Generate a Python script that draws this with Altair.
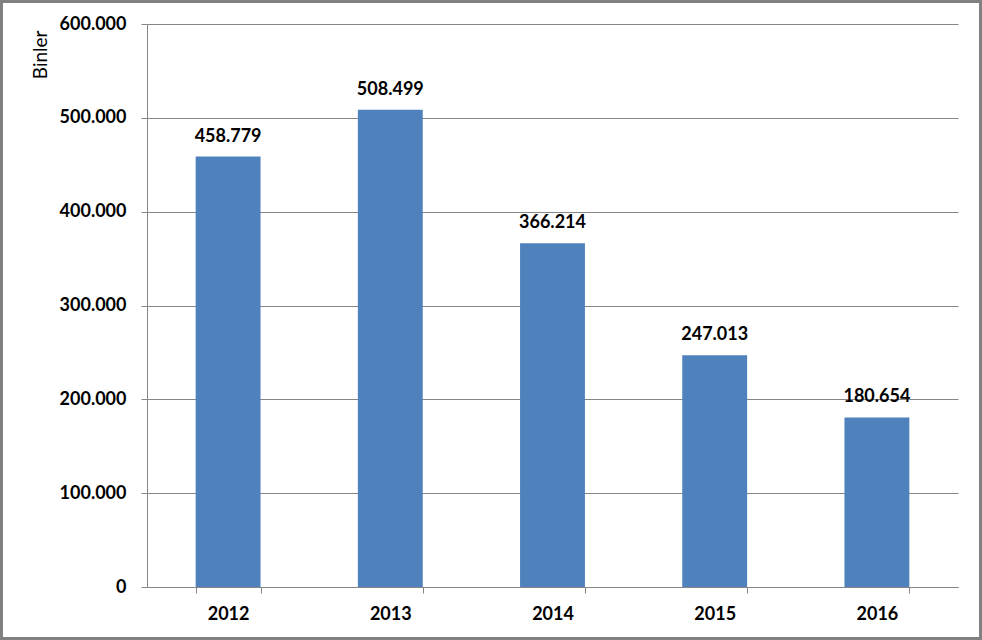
import altair as alt
import pandas as pd

years = ["2012", "2013", "2014", "2015", "2016"]
values = [458779, 508499, 366214, 247013, 180654]

df = pd.DataFrame({"year": years, "value": values})

W, H = 811, 563
PL, PT = 147, 24
FONT = "Lato"
FS = 18

base = alt.Chart(df)

bars = base.mark_bar(color="#4F81BD").encode(
    x=alt.X("year:N", sort=years,
            scale=alt.Scale(paddingInner=0.6, paddingOuter=0.3),
            axis=alt.Axis(title=None, labelAngle=0, tickBand="extent",
                          labelFont=FONT, labelFontWeight="bold", labelFontSize=FS,
                          labelColor="black", labelPadding=12,
                          domainColor="#868686", tickColor="#868686", tickSize=6,
                          grid=False)),
    y=alt.Y("value:Q", scale=alt.Scale(domain=[0, 600000], nice=False),
            axis=alt.Axis(title="Binler", values=[0, 100000, 200000, 300000, 400000, 500000, 600000],
                          format=",d", labelFont=FONT, labelFontWeight="bold", labelFontSize=FS,
                          labelColor="black", labelPadding=15,
                          domainColor="#868686", tickColor="#868686", tickSize=6,
                          gridColor="#868686", gridWidth=1,
                          titleFont=FONT, titleFontWeight="normal", titleFontSize=19,
                          titleColor="black", titleAngle=270, titleAlign="right",
                          titleBaseline="alphabetic", titleX=-101, titleY=6)),
)

labels = base.mark_text(font=FONT, fontWeight="bold", fontSize=FS, color="black",
                        baseline="alphabetic", dy=-15).encode(
    x=alt.X("year:N", sort=years),
    y=alt.Y("value:Q"),
    text=alt.Text("value:Q", format=",d"),
)

border = alt.Chart(pd.DataFrame({"a": [0]})).mark_rect(
    fill=None, stroke="#808080", strokeWidth=3, clip=False).encode(
    x=alt.value(-PL + 1.5), x2=alt.value(982 - PL - 1.5),
    y=alt.value(-PT + 1.5), y2=alt.value(640 - PT - 1.5),
)

chart = alt.layer(bars, labels, border).properties(
    width=W, height=H,
    autosize=alt.AutoSizeParams(type="none"),
    padding={"left": PL, "top": PT, "right": 982 - PL - W, "bottom": 640 - PT - H},
    background="white",
).configure(
    locale={"number": {"decimal": ",", "thousands": ".", "grouping": [3], "currency": ["", ""]}}
).configure_view(stroke=None)

chart.save("out.html", embed_options={"renderer": "svg", "actions": False})
